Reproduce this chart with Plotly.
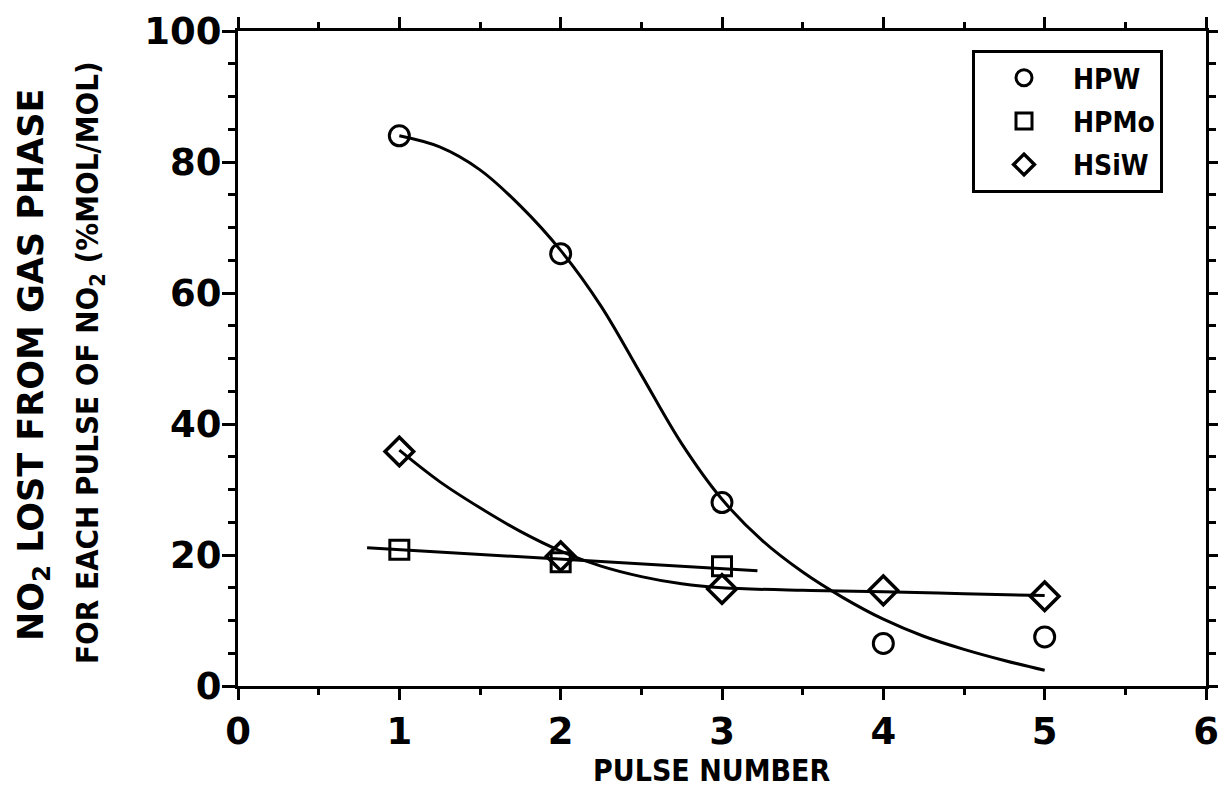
import plotly.graph_objects as go

# measured points
pulse = [1, 2, 3, 4, 5]
hpw = [84, 66, 28, 6.5, 7.5]
hpmo_x = [1, 2, 3]
hpmo = [20.8, 18.9, 18.3]
hsiw = [35.8, 19.8, 14.8, 14.6, 13.7]

# hand-drawn fit curves
hpw_fit_x = [1.0, 1.25, 1.5, 1.75, 2.0, 2.25, 2.5, 2.75, 3.0, 3.25, 3.5, 3.75, 4.0, 4.25, 4.5, 4.75, 5.0]
hpw_fit_y = [84, 82.3, 78.8, 73.3, 66.5, 58, 47.5, 37, 28.5, 22.2, 17.4, 13.5, 10.2, 7.6, 5.6, 3.9, 2.4]
hsiw_fit_x = [1.0, 1.25, 1.5, 1.75, 2.0, 2.25, 2.5, 2.75, 3.0, 3.5, 4.0, 4.5, 5.0]
hsiw_fit_y = [36, 31.2, 27.2, 23.6, 20.6, 18.3, 16.7, 15.6, 15.0, 14.6, 14.4, 14.1, 13.8]
hpmo_fit_x = [0.8, 3.22]
hpmo_fit_y = [21.1, 17.6]

x_ticks = [0, 1, 2, 3, 4, 5, 6]
y_ticks = [0, 20, 40, 60, 80, 100]

L, R, T, B = 238, 12, 31, 116
PW, PH = 1218 - L - R, 802 - T - B

fig = go.Figure()
fig.add_trace(go.Scatter(x=hpw_fit_x, y=hpw_fit_y, mode="lines",
                         line=dict(color="black", width=3, shape="spline", smoothing=1.0), showlegend=False))
fig.add_trace(go.Scatter(x=hsiw_fit_x, y=hsiw_fit_y, mode="lines",
                         line=dict(color="black", width=3, shape="spline", smoothing=1.0), showlegend=False))
fig.add_trace(go.Scatter(x=hpmo_fit_x, y=hpmo_fit_y, mode="lines", line=dict(color="black", width=3), showlegend=False))

fig.add_trace(go.Scatter(x=pulse, y=hpw, mode="markers", name="HPW", legendgroup="a",
                         marker=dict(symbol="circle-open", size=20, color="black", line=dict(width=3, color="black"))))
fig.add_trace(go.Scatter(x=hpmo_x, y=hpmo, mode="markers", name="HPMo", legendgroup="b",
                         marker=dict(symbol="square-open", size=19, color="black", line=dict(width=3, color="black"))))
fig.add_trace(go.Scatter(x=pulse, y=hsiw, mode="markers", name="HSiW", legendgroup="c",
                         marker=dict(symbol="diamond-open", size=22, color="black", line=dict(width=3.5, color="black"))))

axis_common = dict(showline=True, linecolor="black", linewidth=3, mirror="allticks",
                   ticks="outside", tickcolor="black", tickwidth=3,
                   showgrid=False, zeroline=False, automargin=False, ticklabeloverflow="allow",
                   tickfont=dict(family="DejaVu Sans", size=37, color="black", weight="bold"))

fig.update_xaxes(range=[0, 6], tickvals=x_ticks, ticktext=[str(v) for v in x_ticks],
                 ticklen=11, ticklabelstandoff=0,
                 minor=dict(dtick=0.5, ticks="outside", ticklen=6, tickwidth=3, tickcolor="black"),
                 **axis_common)
fig.update_yaxes(range=[0, 100], tickvals=y_ticks, ticktext=[str(v) for v in y_ticks],
                 ticklen=13, ticklabelstandoff=-7,
                 minor=dict(dtick=5, ticks="outside", ticklen=7, tickwidth=3, tickcolor="black"),
                 **axis_common)

fig.add_annotation(text="PULSE NUMBER", xref="paper", yref="paper", x=(712 - L) / PW, y=(686 - 770) / PH,
                   yanchor="middle", showarrow=False,
                   font=dict(family="DejaVu Sans Condensed", size=30, color="black", weight="bold"))
fig.add_annotation(text="NO<sub>2</sub> LOST FROM GAS PHASE", xref="paper", yref="paper",
                   x=(33 - L) / PW, y=(686 - 365) / PH, textangle=-90, showarrow=False,
                   xanchor="center", yanchor="middle",
                   font=dict(family="DejaVu Sans", size=35, color="black", weight="bold"))
fig.add_annotation(text="FOR EACH PULSE OF NO<sub>2</sub> (%MOL/MOL)", xref="paper", yref="paper",
                   x=(89 - L) / PW, y=(686 - 363) / PH, textangle=-90, showarrow=False,
                   xanchor="center", yanchor="middle",
                   font=dict(family="DejaVu Sans Condensed", size=31, color="black", weight="bold"))

fig.update_layout(
    width=1218, height=802,
    margin=dict(l=L, r=R, t=T, b=B, autoexpand=False),
    paper_bgcolor="white", plot_bgcolor="white",
    legend=dict(x=(972 - L) / PW, y=(686 - 50) / PH, xanchor="left", yanchor="top",
                bordercolor="black", borderwidth=3, bgcolor="white",
                traceorder="grouped", tracegroupgap=4,
                font=dict(family="DejaVu Sans Condensed", size=28, color="black", weight="bold"),
                itemwidth=88),
)

fig.write_html("out.html", config={"displayModeBar": False},
               post_script="document.body.style.margin='0';document.body.style.overflow='hidden';")
